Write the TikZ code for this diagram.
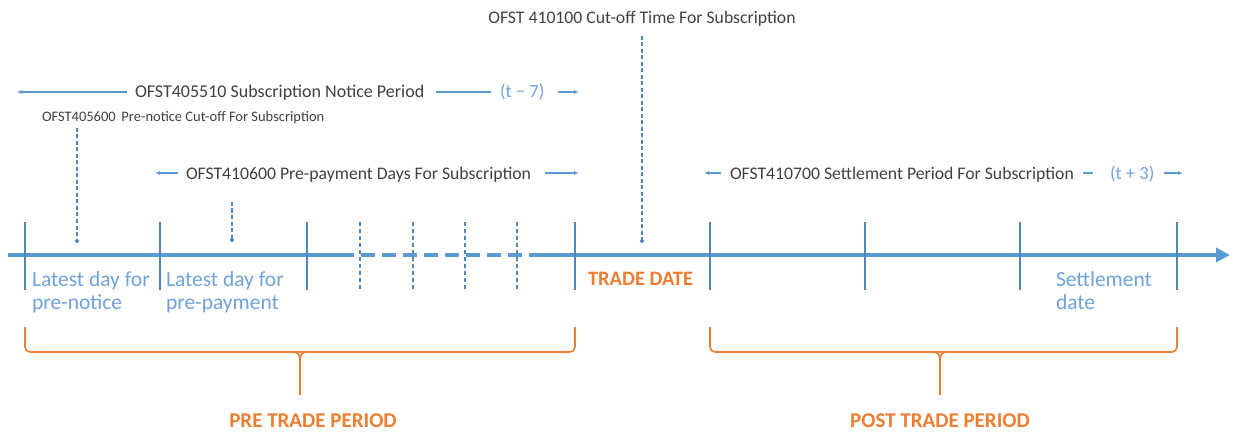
\documentclass[tikz,border=0pt]{standalone}
\usepackage{fontspec}
\setmainfont{Carlito}
\usetikzlibrary{arrows.meta}
\definecolor{axisblue}{HTML}{5B9BD5}
\definecolor{tickblue}{HTML}{4F86C0}
\definecolor{lblblue}{HTML}{6FA3D8}
\definecolor{darktxt}{HTML}{404040}
\definecolor{orng}{HTML}{ED7D31}
\tikzset{
  every node/.style={inner sep=0pt, outer sep=0pt},
  axisline/.style={line width=4.5pt, draw=axisblue},
  tickline/.style={line width=1.6pt, draw=tickblue},
  dtick/.style={line width=1.2pt, draw=tickblue, dash pattern=on 4pt off 3pt},
  cutarrow/.style={line width=1.3pt, draw=tickblue, dash pattern=on 4pt off 2.5pt, -{Circle[length=4pt]}},
  periodarrow/.style={line width=1.6pt, draw=axisblue, -{Latex[length=5pt,width=4pt]}},
  periodline/.style={line width=1.6pt, draw=axisblue},
  ttext/.style={text=darktxt, font=\fontsize{17.7}{20}\selectfont, anchor=base west},
  daylabel/.style={text=lblblue, font=\fontsize{21.5}{23}\selectfont, anchor=base west, align=left},
  tlabel/.style={text=lblblue, font=\fontsize{18.5}{20}\selectfont, anchor=base west},
  brace/.style={draw=orng, line width=1.6pt, rounded corners=5pt},
  bracelabel/.style={text=orng, font=\bfseries\fontsize{21}{24}\selectfont, anchor=base},
}
\begin{document}
\begin{tikzpicture}[x=1pt,y=-1pt]
\useasboundingbox (0,0) rectangle (1235,433);
% axis
\coordinate (a0) at (8,255);
\coordinate (a1) at (340,255);
\coordinate (a2) at (541,255);
\coordinate (aend) at (1230,255);
\draw[axisline] (a0) -- (a1);
\draw[axisline, dash pattern=on 14pt off 7pt] (a1) -- (a2);
\draw[axisline, -{Triangle[length=14pt,width=14pt]}] (a2) -- (aend);
% ticks
\foreach \n/\x in {t1/25,t2/160,t3/307,t4/575,t5/710,t6/865,t7/1020,t8/1177}{
  \coordinate (\n top) at (\x,222);
  \coordinate (\n bot) at (\x,290);
  \draw[tickline] (\n top) -- (\n bot);
}
\foreach \n/\x in {d1/360,d2/413,d3/465,d4/517}{
  \coordinate (\n top) at (\x,222);
  \coordinate (\n bot) at (\x,290);
  \draw[dtick] (\n top) -- (\n bot);
}
% day labels
\node[daylabel] (lab1) at (32,286) {Latest day for};
\node[daylabel] (lab1b) at (32,309) {pre-notice};
\node[daylabel] (lab2) at (166,286) {Latest day for};
\node[daylabel] (lab2b) at (166,309) {pre-payment};
\node[text=orng, font=\bfseries\fontsize{20.5}{22}\selectfont, anchor=base west] (trade) at (588,285) {TRADE DATE};
\node[daylabel] (lab3) at (1056,286) {Settlement};
\node[daylabel] (lab3b) at (1056,309) {date};
% cut-off time
\node[ttext, anchor=base] (cutoff) at (642,24) {OFST 410100 Cut-off Time For Subscription};
\coordinate (cutend) at (642,243);
\draw[cutarrow] (cutoff.south |- 0,36) -- (cutend);
% notice period
\node[text=darktxt, font=\fontsize{18}{20}\selectfont, anchor=base west] (notice) at (135,98) {OFST405510 Subscription Notice Period};
\coordinate (nl) at (17,92);
\coordinate (nl2) at (127,92);
\draw[periodarrow] (nl2) -- (nl);
\coordinate (nr1) at (436,92);
\coordinate (nr2) at (491,92);
\draw[periodline] (nr1) -- (nr2);
\node[tlabel] (tm7) at (500,98) {(t − 7)};
\coordinate (nr3) at (558,92);
\coordinate (nr4) at (579,92);
\draw[periodarrow] (nr3) -- (nr4);
% pre-notice cut-off
\node[text=darktxt, font=\fontsize{14.5}{16}\selectfont, anchor=base west] (prenotice) at (42,122) {OFST405600\, Pre-notice Cut-off For Subscription};
\coordinate (pn1) at (77,128);
\coordinate (pn2) at (77,243);
\draw[cutarrow] (pn1) -- (pn2);
% pre-payment days
\node[ttext] (prepay) at (186,179) {OFST410600 Pre-payment Days For Subscription};
\coordinate (pp1) at (178,173);
\coordinate (pp2) at (155,173);
\draw[periodarrow] (pp1) -- (pp2);
\coordinate (pp3) at (545,173);
\coordinate (pp4) at (579,173);
\draw[periodarrow] (pp3) -- (pp4);
\coordinate (pq1) at (232,202);
\coordinate (pq2) at (232,242);
\draw[cutarrow] (pq1) -- (pq2);
% settlement period
\node[ttext] (settle) at (730,179) {OFST410700 Settlement Period For Subscription};
\coordinate (sp1) at (721,173);
\coordinate (sp2) at (704,173);
\draw[periodarrow] (sp1) -- (sp2);
\coordinate (sp3) at (1083,173);
\coordinate (sp4) at (1093,173);
\draw[periodline] (sp3) -- (sp4);
\node[tlabel] (tp3) at (1110,179) {(t + 3)};
\coordinate (sp5) at (1164,173);
\coordinate (sp6) at (1183,173);
\draw[periodarrow] (sp5) -- (sp6);
% braces
\node[bracelabel] (pre) at (313,427) {PRE TRADE PERIOD};
\node[bracelabel] (post) at (940,427) {POST TRADE PERIOD};
\draw[brace] (25,327) -- (25,352) -- (300,352);
\draw[brace] (575,327) -- (575,352) -- (300,352);
\draw[draw=orng, line width=1.6pt] (293,352) .. controls (299,352) and (300,356) .. (300,362) -- (300,395);
\draw[draw=orng, line width=1.6pt] (307,352) .. controls (301,352) and (300,356) .. (300,362);
\draw[brace] (710,327) -- (710,352) -- (940,352);
\draw[brace] (1177,327) -- (1177,352) -- (940,352);
\draw[draw=orng, line width=1.6pt] (933,352) .. controls (939,352) and (940,356) .. (940,362) -- (940,395);
\draw[draw=orng, line width=1.6pt] (947,352) .. controls (941,352) and (940,356) .. (940,362);
\end{tikzpicture}
\end{document}
